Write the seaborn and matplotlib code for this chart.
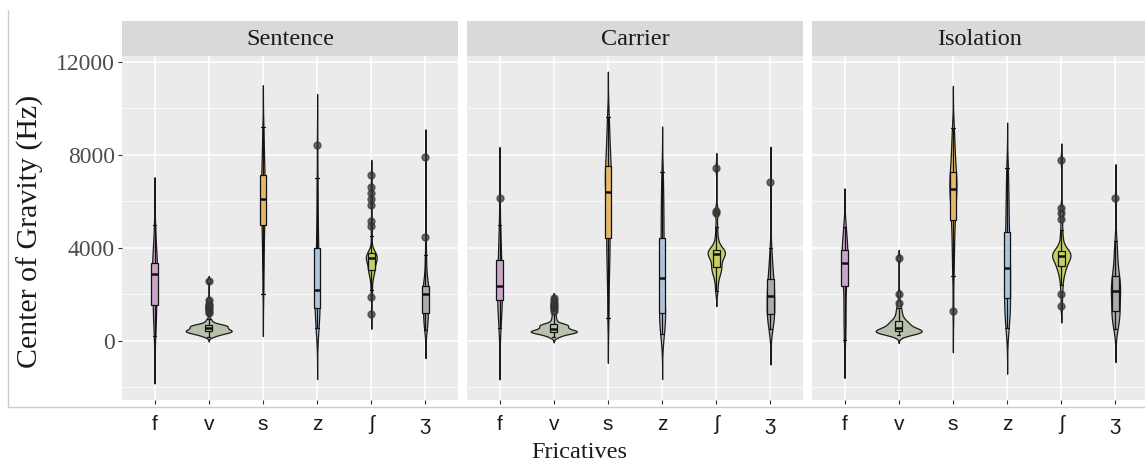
import numpy as np
import pandas as pd
import matplotlib
matplotlib.use("Agg")
import matplotlib.pyplot as plt
from matplotlib.lines import Line2D
import seaborn as sns

# ---------------- data (Hz) ----------------
fricatives = ["f", "v", "s", "z", "ʃ", "ʒ"]
contexts = ["Sentence", "Carrier", "Isolation"]
y_ticks = [0, 4000, 8000, 12000]
y_minor = [-2000, 2000, 6000, 10000]

sentence_f = [200, 700, 1000, 1200, 1400, 1550, 1800, 2100, 2400, 2650, 2870, 2950, 3050, 3150, 3250, 3340, 3500, 3750, 4000, 4400, 5000]
sentence_v = [180, 220, 260, 290, 310, 330, 345, 360, 375, 390, 400, 410, 420, 430, 440, 455, 470, 485, 500, 520, 545, 565, 585, 600, 615, 630, 645, 660, 670, 680, 690, 740, 820, 920, 1180, 1300, 1400, 1500, 1600, 1750, 2580]
sentence_s = [2000, 3000, 3600, 4100, 4600, 4990, 5300, 5550, 5750, 5950, 6100, 6250, 6400, 6600, 6850, 7140, 7400, 7700, 8100, 8600, 9200]
sentence_z = [540, 700, 850, 1000, 1150, 1300, 1420, 1600, 1750, 1900, 2000, 2100, 2190, 2500, 2800, 3100, 3400, 3700, 3985, 4400, 4900, 5500, 6200, 7000, 8430]
sentence_sh = [1160, 1900, 2200, 2500, 2700, 2850, 2930, 2980, 3020, 3050, 3120, 3200, 3280, 3350, 3410, 3460, 3500, 3530, 3555, 3585, 3610, 3635, 3660, 3685, 3710, 3730, 3750, 3770, 4000, 4500, 4950, 5160, 5850, 6100, 6350, 6600, 7140]
sentence_zh = [450, 650, 800, 900, 1000, 1100, 1200, 1350, 1500, 1650, 1800, 1900, 2020, 2100, 2160, 2220, 2270, 2320, 2365, 2600, 2900, 3300, 3700, 4460, 7900]

carrier_f = [530, 800, 1000, 1200, 1400, 1600, 1760, 1900, 2000, 2100, 2200, 2280, 2340, 2500, 2700, 2900, 3100, 3300, 3480, 3700, 3950, 4200, 4500, 5000, 6150]
carrier_v = [140, 200, 240, 270, 300, 320, 335, 350, 360, 370, 380, 390, 400, 410, 420, 430, 445, 460, 480, 500, 520, 545, 570, 595, 620, 640, 660, 680, 695, 710, 720, 780, 880, 1000, 1150, 1300, 1400, 1500, 1600, 1700, 1850]
carrier_s = [1000, 2200, 3000, 3600, 4000, 4420, 4900, 5300, 5700, 6100, 6420, 6650, 6850, 7000, 7250, 7500, 7800, 8100, 8500, 9000, 9630]
carrier_z = [300, 600, 800, 950, 1080, 1190, 1450, 1750, 2050, 2400, 2720, 2950, 3200, 3500, 3900, 4420, 4900, 5400, 5900, 6500, 7270]
carrier_sh = [2120, 2450, 2700, 2850, 2950, 3050, 3120, 3170, 3250, 3350, 3450, 3550, 3620, 3680, 3730, 3760, 3790, 3820, 3850, 3870, 3890, 3910, 4050, 4250, 4500, 4900, 5500, 5600, 7450]
carrier_zh = [510, 700, 850, 950, 1050, 1100, 1150, 1300, 1450, 1600, 1750, 1850, 1940, 2050, 2150, 2300, 2450, 2550, 2650, 2850, 3050, 3300, 3600, 4000, 6820]

isolation_f = [50, 600, 1000, 1400, 1900, 2340, 2600, 2850, 3050, 3200, 3340, 3450, 3550, 3650, 3780, 3910, 4100, 4300, 4500, 4700, 4910]
isolation_v = [260, 290, 310, 325, 340, 355, 370, 385, 400, 410, 420, 430, 445, 460, 480, 500, 530, 560, 600, 640, 680, 720, 760, 800, 840, 900, 1000, 1100, 1250, 1400, 1620, 2020, 3556]
isolation_s = [1300, 2800, 3500, 4000, 4500, 4900, 5200, 5500, 5750, 5950, 6150, 6350, 6520, 6650, 6750, 6850, 6950, 7100, 7280, 7500, 7800, 8100, 8400, 8800, 9170]
isolation_z = [530, 900, 1200, 1400, 1650, 1840, 2100, 2400, 2700, 2950, 3150, 3400, 3650, 3900, 4300, 4700, 5100, 5600, 6100, 6700, 7440]
isolation_sh = [1475, 2020, 2400, 2650, 2850, 2980, 3080, 3160, 3225, 3300, 3380, 3440, 3500, 3550, 3590, 3625, 3655, 3685, 3715, 3740, 3770, 3800, 3830, 3855, 3880, 4000, 4200, 4450, 4750, 5240, 5500, 5700, 7800]
isolation_zh = [520, 750, 900, 1000, 1100, 1180, 1260, 1450, 1650, 1800, 1950, 2050, 2150, 2250, 2350, 2450, 2550, 2650, 2770, 3000, 3300, 3600, 3900, 4300, 6160]

series = {
    "Sentence": [sentence_f, sentence_v, sentence_s, sentence_z, sentence_sh, sentence_zh],
    "Carrier": [carrier_f, carrier_v, carrier_s, carrier_z, carrier_sh, carrier_zh],
    "Isolation": [isolation_f, isolation_v, isolation_s, isolation_z, isolation_sh, isolation_zh],
}

rows = []
for ctx in contexts:
    for fr, vals in zip(fricatives, series[ctx]):
        for v in vals:
            rows.append((ctx, fr, v))
df = pd.DataFrame(rows, columns=["context", "fricative", "cog"])

# ---------------- style ----------------
palette = {"f": "#CBA6CB", "v": "#B8C1AC", "s": "#E4BA68", "z": "#AFC4D9", "ʃ": "#C5CF66", "ʒ": "#ABABAB"}
violin_width = {
    "Sentence": [0.09, 0.85, 0.08, 0.09, 0.20, 0.11],
    "Carrier": [0.09, 0.85, 0.11, 0.11, 0.32, 0.14],
    "Isolation": [0.11, 0.85, 0.13, 0.11, 0.34, 0.17],
}
bandwidth_hz = {
    "Sentence": [680, 70, 600, 730, 215, 400],
    "Carrier": [730, 70, 650, 650, 210, 510],
    "Isolation": [550, 120, 600, 650, 230, 480],
}

sns.set_theme(style="darkgrid")
plt.rcParams["font.family"] = ["Liberation Serif", "DejaVu Serif"]

W, H = 1145, 468
fig = plt.figure(figsize=(W / 100, H / 100), dpi=100)
fig.patch.set_facecolor("white")

panel_left = [122, 467, 812]
panel_w = 336
panel_top, panel_bot = 56, 400
strip_top = 21

axes = []
for i, ctx in enumerate(contexts):
    ax = fig.add_axes([panel_left[i] / W, 1 - panel_bot / H, panel_w / W, (panel_bot - panel_top) / H])
    sax = fig.add_axes([panel_left[i] / W, 1 - panel_top / H, panel_w / W, (panel_top - strip_top) / H])
    sax.set_facecolor("#D9D9D9")
    sax.grid(False)
    sax.set_xticks([]); sax.set_yticks([])
    for sp in sax.spines.values():
        sp.set_visible(False)
    sax.text(0.5, 0.47, ctx, ha="center", va="center", fontsize=17.5, color="#1A1A1A",
             transform=sax.transAxes)
    axes.append(ax)

for ax, ctx in zip(axes, contexts):
    sub = df[df["context"] == ctx]
    for j, fr in enumerate(fricatives):
        g = sub[sub["fricative"] == fr]
        factor = bandwidth_hz[ctx][j] / g["cog"].std()
        sns.violinplot(data=g, x="fricative", y="cog", order=fricatives, hue="fricative",
                       hue_order=fricatives, palette=palette, saturation=1,
                       width=violin_width[ctx][j], density_norm="width", cut=3,
                       bw_method=factor, inner=None, linewidth=0.9, linecolor="#1A1A1A",
                       legend=False, ax=ax)
    sns.boxplot(data=sub, x="fricative", y="cog", order=fricatives, hue="fricative",
                hue_order=fricatives, palette=palette, saturation=1, width=0.12,
                linewidth=0.9, linecolor="#111111",
                medianprops={"linewidth": 1.8},
                flierprops={"marker": "o", "markerfacecolor": "#333333",
                            "markeredgecolor": "#333333", "alpha": 0.7, "markersize": 5},
                legend=False, ax=ax)

    ax.set_facecolor("#EBEBEB")
    ax.set_xlim(-0.6, 5.6)
    ax.set_ylim(-2550, 12255)
    ax.set_yticks(y_ticks)
    ax.set_yticks(y_minor, minor=True)
    ax.set_xticks(range(len(fricatives)))
    ax.set_xticklabels(fricatives, fontsize=15, color="#1A1A1A",
                       family=["Liberation Sans", "DejaVu Sans"])
    ax.grid(which="major", color="white", linewidth=1.1)
    ax.grid(which="minor", axis="y", color="white", linewidth=0.55)
    ax.set_axisbelow(True)
    for sp in ax.spines.values():
        sp.set_visible(False)
    ax.set_xlabel("")
    ax.set_ylabel("")
    ax.tick_params(axis="x", which="major", bottom=True, length=3, width=0.8, color="#333333", pad=8)
    ax.tick_params(axis="y", which="major", left=True, length=3, width=0.8, color="#333333", pad=2,
                   labelsize=17, labelcolor="#4D4D4D")
    ax.tick_params(which="minor", length=0)

for ax in axes[1:]:
    ax.tick_params(axis="y", which="major", length=0, labelleft=False)

# outer frame of the original figure
fig.add_artist(Line2D([8 / W, 8 / W], [1 - 407 / H, 1 - 10 / H], color="#CCCCCC", lw=1.0))
fig.add_artist(Line2D([8 / W, 1.0], [1 - 407 / H, 1 - 407 / H], color="#CCCCCC", lw=1.0))

fig.text(579 / W, 1 - 452 / H, "Fricatives", ha="center", va="center", fontsize=17.5, color="#1A1A1A")
fig.text(30 / W, 1 - 231 / H, "Center of Gravity (Hz)", ha="center", va="center",
         rotation=90, fontsize=21.5, color="#1A1A1A")

fig.savefig("out.png", dpi=100)
